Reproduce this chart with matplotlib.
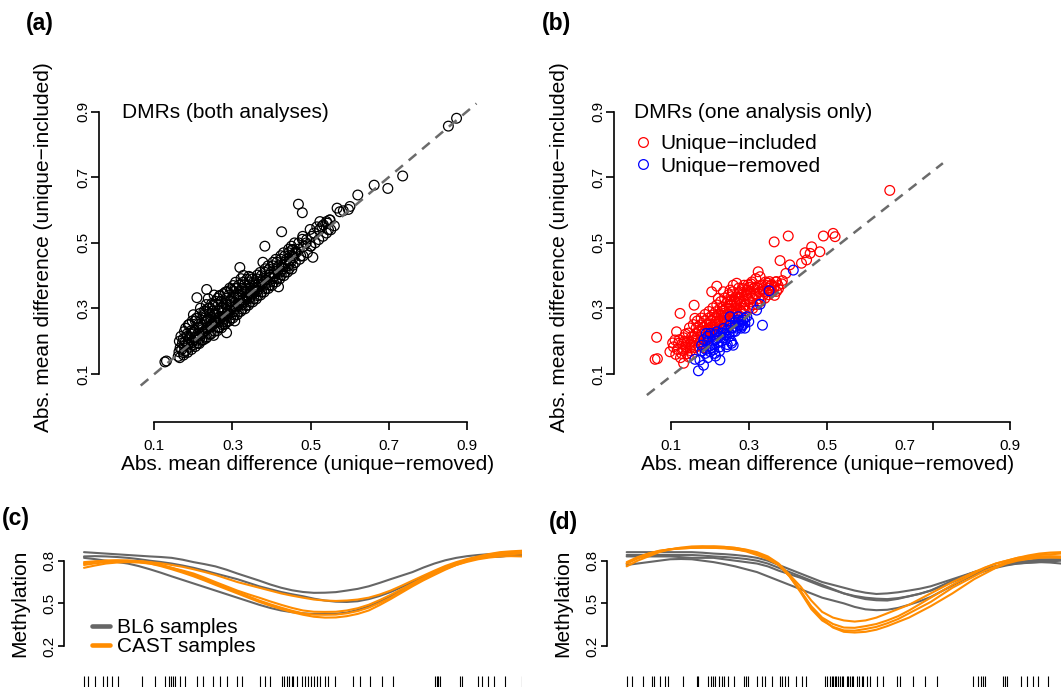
import numpy as np
import matplotlib
matplotlib.use('Agg')
import matplotlib.pyplot as plt
from matplotlib.lines import Line2D

plt.rcParams['font.family'] = ['Liberation Sans', 'DejaVu Sans']

# ---- data -------------------------------------------------------------
# (a) DMRs in both analyses: (unique-removed, unique-included)
both_pts = np.array([
    (0.127, 0.137), (0.131, 0.140), (0.163, 0.168), (0.161, 0.154),
    (0.209, 0.333), (0.234, 0.358), (0.285, 0.226), (0.319, 0.425), (0.383, 0.490),
    (0.426, 0.534), (0.418, 0.366), (0.506, 0.456), (0.469, 0.618), (0.479, 0.592),
    (0.568, 0.606), (0.575, 0.595), (0.584, 0.598), (0.597, 0.602), (0.601, 0.611),
    (0.621, 0.646), (0.663, 0.676), (0.698, 0.666), (0.736, 0.704), (0.853, 0.856),
    (0.874, 0.880),
    (0.499, 0.541), (0.516, 0.549), (0.524, 0.565), (0.541, 0.565), (0.550, 0.570),
    (0.533, 0.555), (0.546, 0.540), (0.452, 0.478), (0.470, 0.500), (0.480, 0.520),
    (0.490, 0.510), (0.500, 0.490), (0.460, 0.470), (0.475, 0.460),
    (0.170, 0.175), (0.172, 0.195), (0.168, 0.215), (0.175, 0.165),
    (0.181, 0.172), (0.179, 0.198), (0.183, 0.222), (0.186, 0.188), (0.180, 0.240),
    (0.192, 0.182), (0.189, 0.210), (0.194, 0.232), (0.190, 0.252), (0.196, 0.195),
    (0.201, 0.190), (0.203, 0.212), (0.199, 0.229), (0.205, 0.262), (0.200, 0.281), (0.207, 0.203),
    (0.212, 0.195), (0.210, 0.221), (0.214, 0.243), (0.209, 0.270), (0.216, 0.208), (0.213, 0.252),
    (0.221, 0.203), (0.224, 0.224), (0.219, 0.252), (0.226, 0.279), (0.222, 0.235), (0.218, 0.301),
    (0.232, 0.209), (0.229, 0.233), (0.234, 0.260), (0.231, 0.291), (0.236, 0.243), (0.228, 0.270),
    (0.233, 0.312),
    (0.241, 0.221), (0.244, 0.243), (0.239, 0.268), (0.242, 0.302), (0.246, 0.251), (0.238, 0.330),
    (0.243, 0.281),
    (0.252, 0.218), (0.249, 0.252), (0.254, 0.281), (0.251, 0.311), (0.256, 0.262), (0.248, 0.292),
    (0.253, 0.341),
    (0.261, 0.232), (0.263, 0.258), (0.259, 0.279), (0.264, 0.312), (0.258, 0.271), (0.262, 0.331),
    (0.266, 0.243),
    (0.272, 0.241), (0.269, 0.270), (0.274, 0.291), (0.271, 0.322), (0.276, 0.259), (0.268, 0.340),
    (0.273, 0.302),
    (0.281, 0.252), (0.283, 0.281), (0.279, 0.300), (0.284, 0.331), (0.278, 0.268), (0.282, 0.350),
    (0.286, 0.311),
    (0.292, 0.262), (0.289, 0.279), (0.294, 0.310), (0.291, 0.341), (0.288, 0.292), (0.293, 0.362),
    (0.296, 0.322),
    (0.301, 0.271), (0.303, 0.290), (0.299, 0.321), (0.304, 0.352), (0.298, 0.302), (0.302, 0.370),
    (0.306, 0.262),
    (0.312, 0.281), (0.309, 0.300), (0.314, 0.331), (0.311, 0.361), (0.316, 0.310), (0.308, 0.380),
    (0.321, 0.291), (0.323, 0.310), (0.319, 0.342), (0.324, 0.360), (0.318, 0.322), (0.322, 0.391),
    (0.332, 0.299), (0.329, 0.321), (0.334, 0.350), (0.331, 0.372), (0.336, 0.331), (0.328, 0.401),
    (0.341, 0.310), (0.343, 0.330), (0.339, 0.352), (0.344, 0.381), (0.338, 0.341), (0.342, 0.398),
    (0.352, 0.320), (0.349, 0.341), (0.354, 0.362), (0.351, 0.390), (0.356, 0.350),
    (0.361, 0.329), (0.363, 0.352), (0.359, 0.371), (0.364, 0.402), (0.358, 0.361),
    (0.372, 0.341), (0.369, 0.361), (0.374, 0.382), (0.371, 0.410),
    (0.381, 0.350), (0.383, 0.371), (0.379, 0.391), (0.384, 0.421), (0.378, 0.441),
    (0.392, 0.361), (0.389, 0.380), (0.394, 0.402), (0.391, 0.430),
    (0.401, 0.370), (0.403, 0.391), (0.399, 0.410), (0.404, 0.441),
    (0.412, 0.381), (0.409, 0.400), (0.414, 0.421), (0.411, 0.450),
    (0.421, 0.390), (0.423, 0.411), (0.419, 0.430), (0.424, 0.461),
    (0.432, 0.400), (0.429, 0.421), (0.434, 0.441), (0.431, 0.470),
    (0.441, 0.411), (0.443, 0.430), (0.439, 0.450), (0.444, 0.481),
    (0.452, 0.420), (0.449, 0.441), (0.454, 0.460), (0.451, 0.490),
    (0.461, 0.440), (0.463, 0.470), (0.459, 0.500),
    (0.472, 0.450), (0.469, 0.481),
    (0.481, 0.460), (0.483, 0.490), (0.479, 0.511),
    (0.492, 0.470), (0.489, 0.500),
    (0.501, 0.490), (0.503, 0.520),
    (0.512, 0.500), (0.509, 0.530),
    (0.521, 0.510), (0.523, 0.540),
    (0.532, 0.520), (0.529, 0.550),
    (0.541, 0.530), (0.543, 0.560),
    (0.552, 0.540), (0.549, 0.570),
    (0.561, 0.552),
    (0.165, 0.150), (0.166, 0.180), (0.164, 0.200),
    (0.175, 0.158), (0.176, 0.185), (0.174, 0.207), (0.177, 0.230),
    (0.185, 0.166), (0.186, 0.193), (0.184, 0.215), (0.187, 0.250),
    (0.195, 0.175), (0.196, 0.200), (0.194, 0.222), (0.197, 0.262),
    (0.205, 0.184), (0.206, 0.210), (0.204, 0.233), (0.207, 0.270),
    (0.215, 0.193), (0.216, 0.218), (0.214, 0.240), (0.217, 0.285),
    (0.225, 0.204), (0.226, 0.228), (0.224, 0.250), (0.227, 0.292),
    (0.235, 0.213), (0.236, 0.238), (0.234, 0.262), (0.237, 0.300),
    (0.245, 0.222), (0.246, 0.247), (0.244, 0.272), (0.247, 0.315),
    (0.255, 0.231), (0.256, 0.257), (0.254, 0.283), (0.257, 0.322),
    (0.265, 0.241), (0.266, 0.266), (0.264, 0.292), (0.267, 0.338),
    (0.275, 0.250), (0.276, 0.276), (0.274, 0.302), (0.277, 0.345),
    (0.285, 0.259), (0.286, 0.286), (0.284, 0.313), (0.287, 0.352),
    (0.295, 0.270), (0.296, 0.296), (0.294, 0.322), (0.297, 0.358),
    (0.305, 0.280), (0.306, 0.306), (0.304, 0.333), (0.307, 0.362),
    (0.315, 0.289), (0.316, 0.316), (0.314, 0.342), (0.317, 0.372),
    (0.325, 0.298), (0.326, 0.326), (0.324, 0.352), (0.327, 0.380),
    (0.335, 0.309), (0.336, 0.336), (0.334, 0.361), (0.337, 0.389),
    (0.345, 0.319), (0.346, 0.345), (0.344, 0.372), (0.347, 0.395),
    (0.355, 0.330), (0.356, 0.355), (0.354, 0.381),
    (0.365, 0.339), (0.366, 0.366), (0.364, 0.390),
    (0.375, 0.350), (0.376, 0.375), (0.374, 0.400),
    (0.385, 0.360), (0.386, 0.386), (0.384, 0.410),
    (0.395, 0.371), (0.396, 0.395), (0.394, 0.420),
    (0.405, 0.380), (0.406, 0.406), (0.404, 0.430),
    (0.415, 0.391), (0.416, 0.415), (0.414, 0.441),
    (0.425, 0.402), (0.426, 0.426), (0.424, 0.450),
    (0.435, 0.411), (0.436, 0.436), (0.434, 0.460),
    (0.445, 0.421), (0.446, 0.446), (0.444, 0.470),
    (0.455, 0.432), (0.456, 0.455), (0.454, 0.480),
])

# (b) DMRs found by one analysis only
inc_pts = np.array([
    (0.060, 0.145), (0.066, 0.147), (0.064, 0.212), (0.098, 0.168), (0.107, 0.183),
    (0.111, 0.204), (0.115, 0.229), (0.120, 0.194), (0.128, 0.163), (0.133, 0.133),
    (0.141, 0.178), (0.145, 0.153), (0.154, 0.188), (0.160, 0.310), (0.124, 0.285),
    (0.205, 0.351), (0.218, 0.368), (0.235, 0.351), (0.252, 0.356), (0.260, 0.371),
    (0.269, 0.377), (0.256, 0.336), (0.324, 0.412), (0.329, 0.397), (0.350, 0.377),
    (0.371, 0.382), (0.365, 0.503), (0.401, 0.521), (0.380, 0.446), (0.405, 0.433),
    (0.395, 0.407), (0.435, 0.438), (0.448, 0.448), (0.457, 0.468), (0.461, 0.488),
    (0.482, 0.473), (0.444, 0.470), (0.491, 0.521), (0.516, 0.529), (0.521, 0.519),
    (0.661, 0.660),
    (0.131, 0.172), (0.129, 0.192), (0.133, 0.211),
    (0.141, 0.162), (0.139, 0.183), (0.143, 0.201), (0.138, 0.222),
    (0.151, 0.171), (0.149, 0.192), (0.153, 0.212), (0.148, 0.241),
    (0.161, 0.181), (0.159, 0.202), (0.163, 0.223), (0.158, 0.251), (0.162, 0.270),
    (0.171, 0.185), (0.169, 0.212), (0.173, 0.231), (0.168, 0.262), (0.174, 0.195),
    (0.181, 0.192), (0.179, 0.221), (0.183, 0.242), (0.178, 0.271), (0.184, 0.203),
    (0.191, 0.201), (0.189, 0.231), (0.193, 0.251), (0.188, 0.282), (0.194, 0.212),
    (0.201, 0.212), (0.199, 0.232), (0.203, 0.262), (0.198, 0.291), (0.204, 0.243),
    (0.211, 0.221), (0.209, 0.242), (0.213, 0.271), (0.208, 0.302), (0.214, 0.252),
    (0.221, 0.232), (0.219, 0.251), (0.223, 0.281), (0.218, 0.311), (0.224, 0.262), (0.222, 0.331),
    (0.231, 0.242), (0.229, 0.261), (0.233, 0.292), (0.228, 0.321), (0.234, 0.272),
    (0.241, 0.252), (0.239, 0.271), (0.243, 0.301), (0.238, 0.332), (0.244, 0.282),
    (0.251, 0.262), (0.249, 0.281), (0.253, 0.311), (0.248, 0.342), (0.254, 0.292),
    (0.261, 0.271), (0.259, 0.291), (0.263, 0.322), (0.258, 0.351), (0.264, 0.302),
    (0.271, 0.282), (0.269, 0.301), (0.273, 0.331), (0.268, 0.312), (0.274, 0.362),
    (0.281, 0.291), (0.279, 0.312), (0.283, 0.341), (0.278, 0.322), (0.284, 0.361),
    (0.291, 0.292), (0.289, 0.321), (0.293, 0.342), (0.288, 0.371),
    (0.301, 0.301), (0.299, 0.331), (0.303, 0.352), (0.298, 0.372),
    (0.311, 0.311), (0.309, 0.332), (0.313, 0.361), (0.308, 0.381),
    (0.321, 0.312), (0.319, 0.342), (0.323, 0.362), (0.318, 0.391),
    (0.331, 0.322), (0.329, 0.351), (0.333, 0.372),
    (0.341, 0.331), (0.339, 0.352), (0.343, 0.381),
    (0.351, 0.342), (0.349, 0.362), (0.353, 0.382),
    (0.361, 0.351), (0.359, 0.372),
    (0.371, 0.352), (0.369, 0.381),
    (0.125, 0.150), (0.135, 0.200), (0.145, 0.225), (0.155, 0.160), (0.165, 0.240),
    (0.175, 0.250), (0.185, 0.180), (0.195, 0.270), (0.205, 0.225), (0.215, 0.290),
    (0.225, 0.245), (0.235, 0.305), (0.245, 0.260), (0.255, 0.325), (0.265, 0.285),
    (0.275, 0.345), (0.285, 0.300), (0.295, 0.355), (0.305, 0.320), (0.315, 0.345),
    (0.325, 0.330), (0.335, 0.360), (0.345, 0.370), (0.355, 0.355), (0.365, 0.365),
    (0.375, 0.370), (0.385, 0.375), (0.300, 0.365), (0.310, 0.300), (0.290, 0.310),
    (0.280, 0.275), (0.270, 0.320), (0.260, 0.255), (0.250, 0.300), (0.240, 0.240),
    (0.230, 0.280), (0.220, 0.270), (0.210, 0.235), (0.200, 0.250), (0.190, 0.215),
    (0.180, 0.230), (0.170, 0.205), (0.160, 0.215), (0.150, 0.180), (0.140, 0.195),
    (0.117, 0.175), (0.122, 0.205), (0.113, 0.160), (0.105, 0.195), (0.186, 0.262),
    (0.196, 0.238), (0.206, 0.280), (0.216, 0.262), (0.226, 0.300), (0.236, 0.285),
    (0.246, 0.320), (0.256, 0.310), (0.266, 0.335), (0.276, 0.330), (0.286, 0.350),
    (0.296, 0.340), (0.306, 0.375), (0.316, 0.365), (0.326, 0.350), (0.336, 0.340),
    (0.346, 0.350), (0.356, 0.370), (0.366, 0.340), (0.376, 0.360), (0.386, 0.385),
])

rem_pts = np.array([
    (0.171, 0.110), (0.184, 0.127), (0.175, 0.143), (0.162, 0.145), (0.226, 0.143),
    (0.188, 0.163), (0.201, 0.168), (0.213, 0.163), (0.226, 0.183), (0.243, 0.183),
    (0.256, 0.194), (0.260, 0.188), (0.179, 0.188), (0.201, 0.224), (0.218, 0.229),
    (0.235, 0.239), (0.252, 0.249), (0.265, 0.259), (0.273, 0.265), (0.282, 0.246),
    (0.252, 0.275), (0.273, 0.275), (0.320, 0.295), (0.329, 0.313), (0.352, 0.354),
    (0.335, 0.249), (0.414, 0.417), (0.191, 0.224), (0.195, 0.200), (0.210, 0.190),
    (0.220, 0.210), (0.230, 0.200), (0.240, 0.220), (0.260, 0.230), (0.270, 0.240),
    (0.280, 0.260), (0.285, 0.250), (0.290, 0.270), (0.290, 0.255), (0.210, 0.175),
    (0.190, 0.175), (0.240, 0.205), (0.250, 0.215), (0.275, 0.250), (0.230, 0.225),
    (0.215, 0.205), (0.180, 0.170), (0.200, 0.185),
    (0.185, 0.205), (0.195, 0.215), (0.205, 0.200), (0.215, 0.220), (0.225, 0.215),
    (0.235, 0.225), (0.245, 0.235), (0.255, 0.240), (0.265, 0.245), (0.275, 0.260),
    (0.285, 0.265), (0.295, 0.275), (0.205, 0.180), (0.220, 0.195), (0.235, 0.210),
    (0.250, 0.225), (0.265, 0.230), (0.280, 0.240), (0.300, 0.260), (0.245, 0.190),
    (0.255, 0.200), (0.215, 0.155), (0.195, 0.150), (0.225, 0.170), (0.290, 0.240),
])

diag_a = [0.065, 0.925]            # y = x reference line
fit_b_x = [0.039, 0.797]           # reference line in (b)
fit_b_y = [0.036, 0.743]

axis_ticks = [0.1, 0.3, 0.5, 0.7, 0.9]
b_xtick_pos = [0.1, 0.3, 0.5, 0.771, 0.97]
b_xlab_pos = [0.1, 0.3, 0.5, 0.7, 0.97]
b_xlab = ['0.1', '0.3', '0.5', '0.7', '0.9']

# (c), (d) smoothed methylation along the region (position in % of region)
curve_pos = np.arange(0, 100.1, 2.5)
bl6_c = [
    [0.86, 0.855, 0.85, 0.845, 0.84, 0.835, 0.83, 0.826, 0.82, 0.807, 0.79, 0.776, 0.76, 0.737, 0.71,
     0.685, 0.66, 0.633, 0.61, 0.592, 0.58, 0.574, 0.575, 0.579, 0.59, 0.602, 0.62, 0.644, 0.67, 0.695,
     0.72, 0.752, 0.78, 0.803, 0.82, 0.832, 0.84, 0.846, 0.85, 0.851, 0.85],
    [0.83, 0.832, 0.83, 0.826, 0.82, 0.811, 0.80, 0.791, 0.78, 0.766, 0.75, 0.731, 0.71, 0.69, 0.67,
     0.645, 0.62, 0.60, 0.58, 0.564, 0.55, 0.533, 0.52, 0.512, 0.51, 0.515, 0.53, 0.552, 0.58, 0.614,
     0.65, 0.686, 0.72, 0.753, 0.78, 0.803, 0.82, 0.827, 0.83, 0.836, 0.84],
    [0.82, 0.811, 0.80, 0.791, 0.78, 0.762, 0.74, 0.716, 0.69, 0.665, 0.64, 0.615, 0.59, 0.565, 0.54,
     0.515, 0.49, 0.468, 0.45, 0.438, 0.43, 0.425, 0.425, 0.427, 0.435, 0.454, 0.48, 0.513, 0.55, 0.59,
     0.63, 0.67, 0.71, 0.748, 0.78, 0.803, 0.82, 0.827, 0.83, 0.836, 0.84],
]
cast_c = [
    [0.79, 0.796, 0.80, 0.802, 0.80, 0.797, 0.79, 0.782, 0.77, 0.757, 0.74, 0.721, 0.70, 0.675, 0.65,
     0.63, 0.61, 0.59, 0.57, 0.554, 0.54, 0.527, 0.52, 0.517, 0.52, 0.527, 0.54, 0.562, 0.59, 0.624,
     0.66, 0.695, 0.73, 0.763, 0.79, 0.812, 0.83, 0.847, 0.86, 0.866, 0.87],
    [0.78, 0.792, 0.80, 0.802, 0.80, 0.797, 0.79, 0.772, 0.75, 0.731, 0.71, 0.681, 0.65, 0.62, 0.59,
     0.564, 0.54, 0.514, 0.49, 0.468, 0.45, 0.441, 0.44, 0.441, 0.45, 0.466, 0.49, 0.523, 0.56, 0.60,
     0.64, 0.68, 0.72, 0.753, 0.78, 0.803, 0.82, 0.837, 0.85, 0.856, 0.86],
    [0.77, 0.781, 0.79, 0.797, 0.80, 0.792, 0.78, 0.767, 0.75, 0.726, 0.70, 0.671, 0.64, 0.61, 0.58,
     0.55, 0.52, 0.494, 0.47, 0.448, 0.43, 0.421, 0.42, 0.421, 0.43, 0.446, 0.47, 0.503, 0.54, 0.585,
     0.63, 0.672, 0.71, 0.743, 0.77, 0.797, 0.82, 0.832, 0.84, 0.846, 0.85],
    [0.75, 0.766, 0.78, 0.787, 0.79, 0.787, 0.78, 0.762, 0.74, 0.716, 0.69, 0.661, 0.63, 0.60, 0.57,
     0.54, 0.51, 0.484, 0.46, 0.438, 0.42, 0.406, 0.40, 0.401, 0.41, 0.426, 0.45, 0.488, 0.53, 0.575,
     0.62, 0.662, 0.70, 0.737, 0.77, 0.792, 0.81, 0.822, 0.83, 0.832, 0.83],
]
bl6_d = [
    [0.86, 0.86, 0.86, 0.86, 0.86, 0.86, 0.86, 0.856, 0.85, 0.846, 0.84, 0.832, 0.82, 0.80, 0.77,
     0.74, 0.71, 0.68, 0.65, 0.63, 0.61, 0.59, 0.575, 0.566, 0.57, 0.578, 0.59, 0.603, 0.62, 0.645,
     0.67, 0.695, 0.72, 0.74, 0.76, 0.777, 0.79, 0.80, 0.81, 0.81, 0.81],
    [0.84, 0.84, 0.84, 0.84, 0.84, 0.84, 0.84, 0.836, 0.83, 0.826, 0.82, 0.812, 0.80, 0.78, 0.75,
     0.72, 0.69, 0.66, 0.63, 0.60, 0.57, 0.552, 0.54, 0.533, 0.53, 0.537, 0.55, 0.567, 0.59, 0.62,
     0.65, 0.68, 0.71, 0.737, 0.76, 0.777, 0.79, 0.796, 0.80, 0.805, 0.81],
    [0.83, 0.83, 0.83, 0.83, 0.83, 0.825, 0.82, 0.82, 0.82, 0.81, 0.80, 0.79, 0.78, 0.76, 0.73,
     0.705, 0.68, 0.65, 0.62, 0.595, 0.57, 0.547, 0.53, 0.522, 0.52, 0.532, 0.55, 0.568, 0.59, 0.625,
     0.66, 0.69, 0.72, 0.742, 0.76, 0.772, 0.78, 0.785, 0.79, 0.795, 0.80],
    [0.77, 0.78, 0.79, 0.80, 0.81, 0.812, 0.81, 0.80, 0.79, 0.776, 0.76, 0.74, 0.72, 0.69, 0.66,
     0.63, 0.60, 0.57, 0.54, 0.52, 0.50, 0.475, 0.458, 0.452, 0.455, 0.468, 0.49, 0.515, 0.545, 0.585,
     0.625, 0.665, 0.70, 0.727, 0.75, 0.767, 0.78, 0.787, 0.79, 0.787, 0.78],
]
cast_d = [
    [0.78, 0.815, 0.84, 0.865, 0.88, 0.887, 0.89, 0.892, 0.89, 0.888, 0.88, 0.865, 0.84, 0.81, 0.77,
     0.70, 0.62, 0.52, 0.44, 0.40, 0.38, 0.372, 0.38, 0.40, 0.43, 0.46, 0.49, 0.53, 0.57, 0.61,
     0.65, 0.685, 0.72, 0.752, 0.78, 0.80, 0.82, 0.837, 0.85, 0.857, 0.86],
    [0.76, 0.80, 0.83, 0.86, 0.88, 0.888, 0.89, 0.892, 0.89, 0.888, 0.88, 0.87, 0.85, 0.82, 0.77,
     0.69, 0.59, 0.48, 0.40, 0.355, 0.33, 0.328, 0.34, 0.355, 0.38, 0.41, 0.45, 0.495, 0.54, 0.585,
     0.63, 0.67, 0.71, 0.75, 0.78, 0.80, 0.82, 0.83, 0.84, 0.845, 0.85],
    [0.78, 0.82, 0.85, 0.87, 0.88, 0.886, 0.89, 0.895, 0.90, 0.897, 0.89, 0.875, 0.85, 0.82, 0.77,
     0.69, 0.58, 0.46, 0.38, 0.335, 0.31, 0.308, 0.32, 0.335, 0.36, 0.39, 0.43, 0.47, 0.51, 0.56,
     0.61, 0.65, 0.69, 0.73, 0.76, 0.79, 0.81, 0.822, 0.83, 0.832, 0.83],
    [0.79, 0.825, 0.85, 0.868, 0.88, 0.892, 0.90, 0.902, 0.90, 0.897, 0.89, 0.878, 0.86, 0.83, 0.78,
     0.70, 0.59, 0.47, 0.39, 0.33, 0.30, 0.295, 0.30, 0.315, 0.34, 0.37, 0.40, 0.44, 0.48, 0.525,
     0.57, 0.62, 0.67, 0.71, 0.75, 0.78, 0.80, 0.812, 0.82, 0.822, 0.82],
]
rug_c = [0, 1.0, 2.5, 4.3, 5.2, 6.3, 7.8, 13.2, 16.2, 18.5, 19.3, 19.8, 20.4, 20.8, 21.9, 23.1,
         25.7, 27.2, 29.5, 31.1, 32.6, 34.9, 36.0, 40.2, 41.3, 42.5, 45.1, 45.7, 46.3, 46.9,
         47.4, 47.8, 48.6, 49.7, 50.5, 51.2, 51.8, 52.4, 53.1, 53.9, 55.0, 55.8, 57.3, 61.5,
         63.0, 65.3, 68.0, 70.6, 80.1, 80.5, 80.9, 81.3, 85.8, 86.2, 90.0, 90.8, 92.3, 93.5,
         96.1, 99.9]
rug_d = [0, 1.2, 3.8, 5.8, 6.3, 7.7, 8.8, 9.6, 13.0, 16.1, 16.5, 18.8, 19.3, 19.8, 20.3, 21.3,
         21.9, 22.4, 23.4, 24.7, 26.9, 27.4, 28.0, 29.9, 31.1, 31.8, 33.4, 35.3, 35.8, 36.5,
         37.2, 39.1, 40.3, 41.4, 45.7, 46.2, 46.8, 47.2, 47.6, 48.0, 48.3, 48.7, 49.1, 49.5,
         49.9, 50.7, 51.0, 51.4, 51.8, 52.2, 53.0, 53.6, 54.1, 54.5, 55.3, 56.0, 57.6, 59.1,
         62.2, 62.9, 66.0, 68.7, 71.4, 79.8, 81.0, 81.5, 82.1, 82.5, 86.7, 87.1, 87.5, 90.9,
         92.1, 93.6, 94.8, 97.1]
meth_ticks = [0.2, 0.5, 0.8]

GRAY = '#666666'
ORANGE = '#FF8C00'
DASH = '#6b6b6b'

# ---- layout -----------------------------------------------------------
W, H = 1061, 689
fig = plt.figure(figsize=(W / 100, H / 100), dpi=100)


def box(l, t, r, b):
    return [l / W, 1 - b / H, (r - l) / W, (b - t) / H]


def style_scatter_axes(ax):
    for s in ('top', 'right'):
        ax.spines[s].set_visible(False)
    for s in ('left', 'bottom'):
        ax.spines[s].set_linewidth(1.2)
    ax.spines['left'].set_bounds(0.1, 0.9)
    ax.set_yticks(axis_ticks, labels=[str(t) for t in axis_ticks])
    ax.tick_params(axis='both', which='both', length=5.5, width=1.2, labelsize=11)
    ax.tick_params(axis='x', pad=6.5)
    ax.tick_params(axis='y', pad=1.2, labelrotation=90)
    for lab in ax.get_yticklabels():
        lab.set_va('center')


# (a)
ax_a = fig.add_axes(box(99.3, 101.2, 479.2, 422.3))
ax_a.set_xlim(-0.041, 0.932)
ax_a.set_ylim(-0.047, 0.932)
ax_a.scatter(both_pts[:, 0], both_pts[:, 1], s=7 ** 2, facecolors='none',
             edgecolors='black', linewidths=0.9, zorder=2)
ax_a.plot(diag_a, diag_a, color=DASH, lw=1.8, dashes=(4, 3), zorder=3)
ax_a.set_xticks(axis_ticks, labels=[str(t) for t in axis_ticks])
ax_a.spines['bottom'].set_bounds(0.1, 0.9)
style_scatter_axes(ax_a)
ax_a.text(0.06, 0.966, 'DMRs (both analyses)', transform=ax_a.transAxes,
          fontsize=15, va='center', ha='left')
ax_a.set_xlabel('Abs. mean difference (unique\u2212removed)', fontsize=15)
ax_a.set_ylabel('Abs. mean difference (unique\u2212included)', fontsize=15)
ax_a.xaxis.set_label_coords(0.548, -0.102)
ax_a.yaxis.set_label_coords(-0.122, 0.547)

# (b)
ax_b = fig.add_axes(box(614.3, 101.2, 1015, 422.3))
ax_b.set_xlim(-0.0444, 0.9817)
ax_b.set_ylim(-0.047, 0.932)
ax_b.scatter(inc_pts[:, 0], inc_pts[:, 1], s=7 ** 2, facecolors='none',
             edgecolors='#FF0000', linewidths=0.9, zorder=2)
ax_b.scatter(rem_pts[:, 0], rem_pts[:, 1], s=7 ** 2, facecolors='none',
             edgecolors='#0000FF', linewidths=0.9, zorder=2)
ax_b.plot(fit_b_x, fit_b_y, color=DASH, lw=1.8, dashes=(4, 3), zorder=3)
ax_b.xaxis.remove_overlapping_locs = False
ax_b.set_xticks(b_xtick_pos, labels=[''] * len(b_xtick_pos))
ax_b.set_xticks(b_xlab_pos, labels=b_xlab, minor=True)
ax_b.spines['bottom'].set_bounds(0.1, 0.97)
style_scatter_axes(ax_b)
ax_b.tick_params(axis='x', which='minor', length=0, labelsize=11, pad=6.5 + 5.5)
ax_b.text(0.048, 0.966, 'DMRs (one analysis only)', transform=ax_b.transAxes,
          fontsize=15, va='center', ha='left')
h_inc = Line2D([], [], ls='none', marker='o', ms=7, mfc='none', mec='#FF0000', mew=0.9)
h_rem = Line2D([], [], ls='none', marker='o', ms=7, mfc='none', mec='#0000FF', mew=0.9)
ax_b.legend([h_inc, h_rem], ['Unique\u2212included', 'Unique\u2212removed'],
            loc='upper left', bbox_to_anchor=(0.052, 0.898), frameon=False,
            fontsize=15, handlelength=0.8, handletextpad=0.41, labelspacing=0.18,
            borderpad=0, borderaxespad=0)
ax_b.set_xlabel('Abs. mean difference (unique\u2212removed)', fontsize=15)
ax_b.set_ylabel('Abs. mean difference (unique\u2212included)', fontsize=15)
ax_b.xaxis.set_label_coords(0.532, -0.102)
ax_b.yaxis.set_label_coords(-0.112, 0.547)


def region_panel(ax, bl6, cast, rug):
    for v in bl6:
        ax.plot(curve_pos, v, color=GRAY, lw=1.5, solid_capstyle='round')
    for v in cast:
        ax.plot(curve_pos, v, color=ORANGE, lw=1.5, solid_capstyle='round')
    ax.vlines(rug, -0.087, -0.011, color='black', lw=0.8)
    ax.set_ylim(-0.09, 0.93)
    for s in ('top', 'right', 'bottom'):
        ax.spines[s].set_visible(False)
    ax.spines['left'].set_linewidth(1.2)
    ax.spines['left'].set_bounds(0.2, 0.8)
    ax.set_xticks([])
    ax.set_yticks(meth_ticks, labels=[str(t) for t in meth_ticks])
    ax.tick_params(axis='y', length=4.3, width=1.2, labelsize=11, pad=1,
                   labelrotation=90)
    for lab in ax.get_yticklabels():
        lab.set_va('center')
    ax.set_ylabel('Methylation', fontsize=15)


# (c)
ax_c = fig.add_axes(box(64, 542.2, 522, 687.3))
ax_c.set_xlim(-4.57, 100)
region_panel(ax_c, bl6_c, cast_c, rug_c)
ax_c.yaxis.set_label_coords(-0.0764, 0.576)
leg_handles = [Line2D([], [], color=GRAY, lw=3.3, solid_capstyle='round'),
               Line2D([], [], color=ORANGE, lw=3.3, solid_capstyle='round')]
ax_c.legend(leg_handles, ['BL6 samples', 'CAST samples'], loc='upper left',
            bbox_to_anchor=(0.0605, 0.477), frameon=False, fontsize=15,
            handlelength=0.88, handletextpad=0.32, labelspacing=0.0,
            borderpad=0, borderaxespad=0)

# (d)
ax_d = fig.add_axes(box(606.7, 542.2, 1061, 687.3))
ax_d.set_xlim(-4.6, 100)
region_panel(ax_d, bl6_d, cast_d, rug_d)
ax_d.yaxis.set_label_coords(-0.075, 0.576)

# panel letters
for lab, x, y in [('(a)', 26, 23.6), ('(b)', 542, 23.6), ('(c)', 2, 518), ('(d)', 548.6, 522)]:
    fig.text(x / W, 1 - y / H, lab, fontsize=16.5, fontweight='bold', ha='left', va='center')

fig.savefig('out.png', dpi=100)
